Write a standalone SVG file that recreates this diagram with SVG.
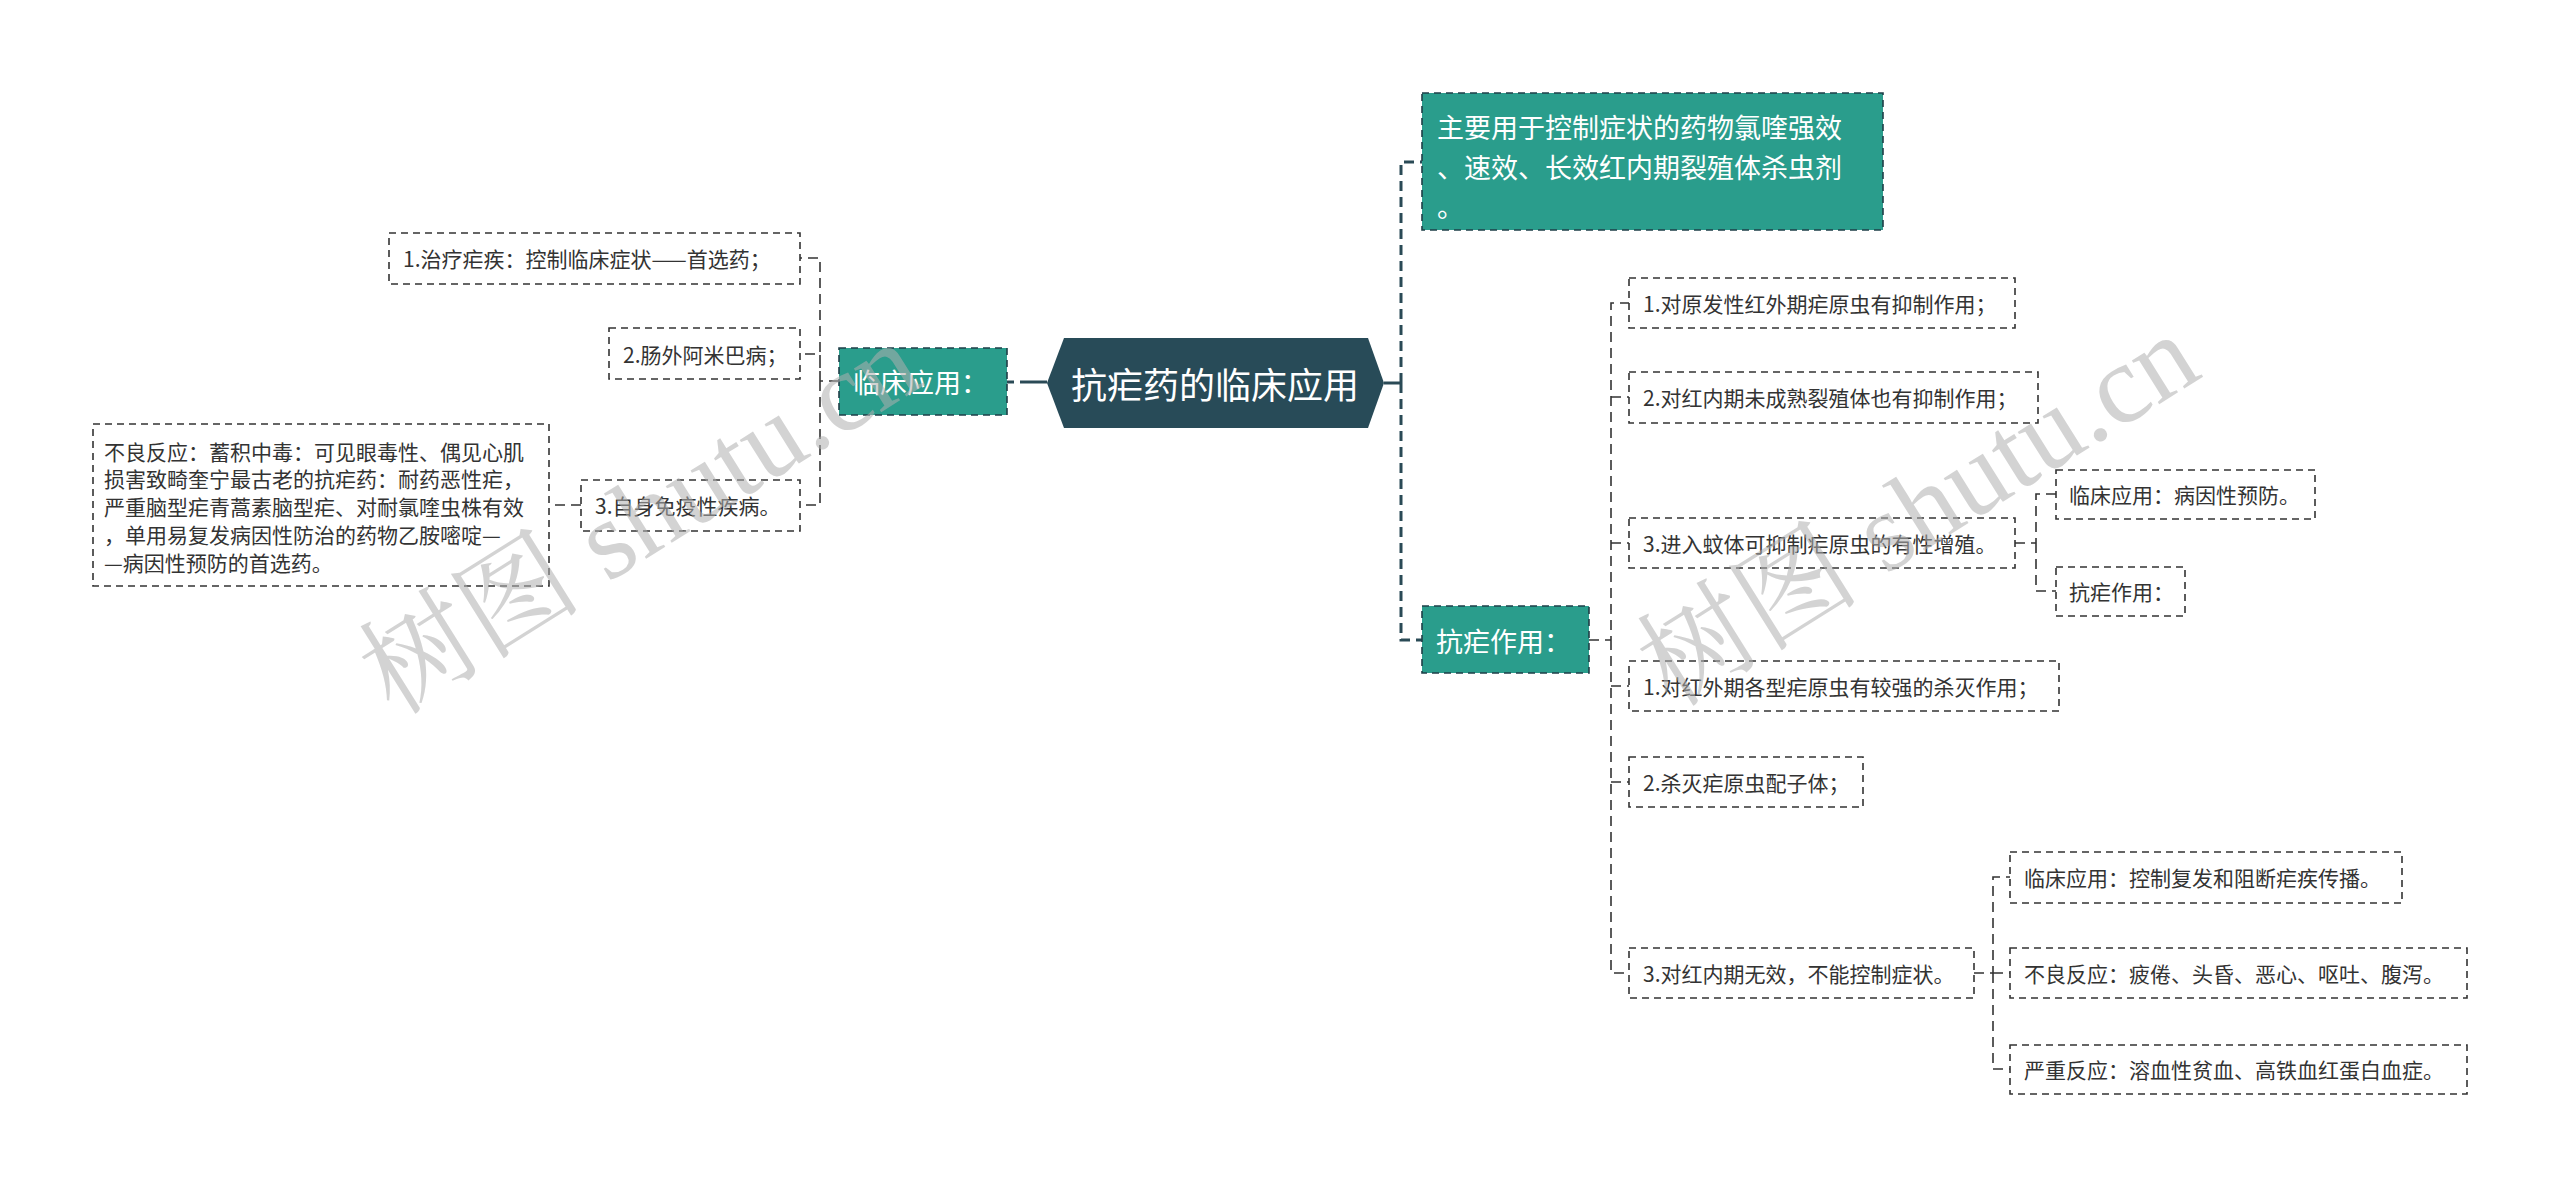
<svg xmlns="http://www.w3.org/2000/svg" width="2560" height="1188" viewBox="0 0 2560 1188">
<style>
text{font-family:"Noto Sans CJK SC","Noto Sans",sans-serif;dominant-baseline:central}
.box{fill:#fff;stroke:#333;stroke-width:1.6;stroke-dasharray:7 5}
.t{font-size:21px;fill:#333}
.teal{fill:#2a9d8c;stroke:#1e3f48;stroke-width:1.6;stroke-dasharray:7 5}
.tt{font-size:27px;fill:#fff}
.c1{fill:none;stroke:#2a4a56;stroke-width:3;stroke-dasharray:10 6}
.c2{fill:none;stroke:#333;stroke-width:1.6;stroke-dasharray:10 6}
.wm{font-family:"Liberation Serif","Noto Serif CJK SC","Noto Sans CJK SC",serif;font-size:112px;fill:#b0b0b0;opacity:0.55}
</style>
<rect width="2560" height="1188" fill="#fff"/>
<g id="connectors">
  <line x1="1047" y1="382" x2="1020" y2="382" stroke="#2a4a56" stroke-width="3"/>
  <line x1="1014" y1="382" x2="1007" y2="382" stroke="#2a4a56" stroke-width="3"/>
  <line x1="1384" y1="383" x2="1401" y2="383" stroke="#2a4a56" stroke-width="3"/>
  <path class="c1" d="M1401 383 V162 H1422 M1401 383 V640 H1422"/>
  <path class="c2" d="M839 381 H820 V258 H800 M820 381 V354 H800 M820 381 V505 H800"/>
  <path class="c2" d="M581 505 H549"/>
  <path class="c2" d="M1589 640 H1611 V303 H1629 M1611 397 H1629 M1611 543 H1629 M1611 640 V973 H1629 M1611 686 H1629 M1611 782 H1629"/>
  <path class="c2" d="M2015 543 H2036 V494 H2056 M2036 543 V591 H2056"/>
  <path class="c2" d="M1974 973 H1993 V877 H2010 M1993 973 H2010 M1993 973 V1069 H2010"/>
</g>
<g id="root">
  <polygon points="1047,383 1064,338 1368,338 1384,383 1368,428 1064,428" fill="#284b58"/>
  <text x="1215" y="383" font-size="36" fill="#fff" text-anchor="middle">抗疟药的临床应用</text>
</g>
<g id="n-left">
  <rect class="teal" x="839" y="348" width="168" height="67"/>
  <text class="tt" x="853" y="381">临床应用：</text>
</g>
<g id="n-l1">
  <rect class="box" x="389" y="233" width="411" height="51"/>
  <text class="t" x="403" y="258">1.治疗疟疾：控制临床症状——首选药；</text>
</g>
<g id="n-l2">
  <rect class="box" x="609" y="328" width="191" height="51"/>
  <text class="t" x="623" y="354">2.肠外阿米巴病；</text>
</g>
<g id="n-l3">
  <rect class="box" x="581" y="480" width="219" height="51"/>
  <text class="t" x="595" y="505">3.自身免疫性疾病。</text>
</g>
<g id="n-l3a">
  <rect class="box" x="93" y="424" width="456" height="162"/>
  <text class="t" x="104" y="451">不良反应：蓄积中毒：可见眼毒性、偶见心肌</text>
  <text class="t" x="104" y="478">损害致畸奎宁最古老的抗疟药：耐药恶性疟，</text>
  <text class="t" x="104" y="506">严重脑型疟青蒿素脑型疟、对耐氯喹虫株有效</text>
  <text class="t" x="104" y="534">，单用易复发病因性防治的药物乙胺嘧啶—</text>
  <text class="t" x="104" y="562">—病因性预防的首选药。</text>
</g>
<g id="n-r1">
  <rect class="teal" x="1422" y="93" width="461" height="137"/>
  <text class="tt" x="1437" y="126">主要用于控制症状的药物氯喹强效</text>
  <text class="tt" x="1437" y="166">、速效、长效红内期裂殖体杀虫剂</text>
  <text class="tt" x="1437" y="205">。</text>
</g>
<g id="n-r2">
  <rect class="teal" x="1422" y="606" width="167" height="67"/>
  <text class="tt" x="1436" y="640">抗疟作用：</text>
</g>
<g id="n-a1">
  <rect class="box" x="1629" y="278" width="386" height="50"/>
  <text class="t" x="1643" y="303">1.对原发性红外期疟原虫有抑制作用；</text>
</g>
<g id="n-a2">
  <rect class="box" x="1629" y="372" width="409" height="51"/>
  <text class="t" x="1643" y="397">2.对红内期未成熟裂殖体也有抑制作用；</text>
</g>
<g id="n-a3">
  <rect class="box" x="1629" y="518" width="386" height="50"/>
  <text class="t" x="1643" y="543">3.进入蚊体可抑制疟原虫的有性增殖。</text>
</g>
<g id="n-a3a">
  <rect class="box" x="2056" y="470" width="259" height="49"/>
  <text class="t" x="2069" y="494">临床应用：病因性预防。</text>
</g>
<g id="n-a3b">
  <rect class="box" x="2056" y="567" width="129" height="49"/>
  <text class="t" x="2069" y="591">抗疟作用：</text>
</g>
<g id="n-a4">
  <rect class="box" x="1629" y="661" width="430" height="50"/>
  <text class="t" x="1643" y="686">1.对红外期各型疟原虫有较强的杀灭作用；</text>
</g>
<g id="n-a5">
  <rect class="box" x="1629" y="757" width="234" height="50"/>
  <text class="t" x="1643" y="782">2.杀灭疟原虫配子体；</text>
</g>
<g id="n-a6">
  <rect class="box" x="1629" y="948" width="345" height="50"/>
  <text class="t" x="1643" y="973">3.对红内期无效，不能控制症状。</text>
</g>
<g id="n-a6a">
  <rect class="box" x="2010" y="852" width="392" height="51"/>
  <text class="t" x="2024" y="877">临床应用：控制复发和阻断疟疾传播。</text>
</g>
<g id="n-a6b">
  <rect class="box" x="2010" y="948" width="457" height="50"/>
  <text class="t" x="2024" y="973">不良反应：疲倦、头昏、恶心、呕吐、腹泻。</text>
</g>
<g id="n-a6c">
  <rect class="box" x="2010" y="1045" width="457" height="49"/>
  <text class="t" x="2024" y="1069">严重反应：溶血性贫血、高铁血红蛋白血症。</text>
</g>
<g id="watermarks">
  <text class="wm" x="640" y="518" text-anchor="middle" transform="rotate(-32 640 518)">树图 shutu.cn</text>
  <text class="wm" x="1918" y="510" text-anchor="middle" transform="rotate(-32 1918 510)">树图 shutu.cn</text>
</g>
</svg>
